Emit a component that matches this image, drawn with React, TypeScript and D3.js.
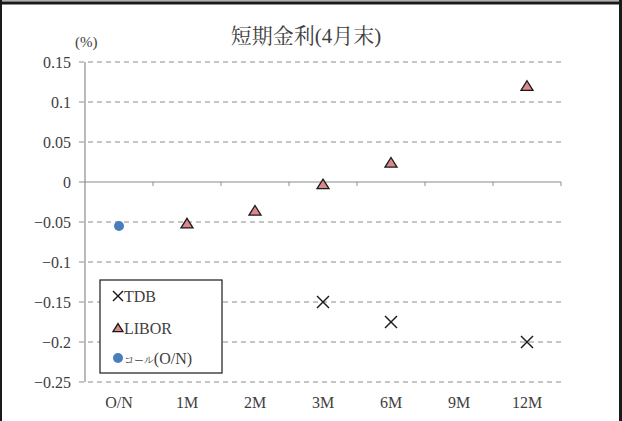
import React from "react";
import * as d3 from "d3";

const categories = ["O/N", "1M", "2M", "3M", "6M", "9M", "12M"];
const yTicks = [0.15, 0.1, 0.05, 0, -0.05, -0.1, -0.15, -0.2, -0.25];
const tdbCats = ["3M", "6M", "12M"];
const tdbValues = [-0.15, -0.175, -0.2];
const liborCats = ["1M", "2M", "3M", "6M", "12M"];
const liborValues = [-0.052, -0.036, -0.003, 0.024, 0.12];
const callCats = ["O/N"];
const callValues = [-0.055];

const W = 622;
const H = 421;
const serif = "'Liberation Serif', 'Noto Serif CJK JP', serif";
const textColor = "#404040";

function tickLabel(v: number) {
  if (v === 0) return "0";
  const s = String(Math.abs(v));
  return (v < 0 ? "\u2212" : "") + s;
}

function Tri({ x, y, s = 6 }: { x: number; y: number; s?: number }) {
  const h = s * 1.6;
  return (
    <path
      d={`M${x},${y - h * 0.55} L${x + s},${y + h * 0.45} L${x - s},${y + h * 0.45} Z`}
      fill="#d9898c"
      stroke="#1a1a1a"
      strokeWidth={1.3}
      strokeLinejoin="miter"
    />
  );
}

function Cross({ x, y, s = 6 }: { x: number; y: number; s?: number }) {
  return (
    <g stroke="#1a1a1a" strokeWidth={1.4}>
      <line x1={x - s} y1={y - s} x2={x + s} y2={y + s} />
      <line x1={x - s} y1={y + s} x2={x + s} y2={y - s} />
    </g>
  );
}

export default function App() {
  const x = d3.scaleBand<string>().domain(categories).range([85, 561]);
  const y = d3.scaleLinear().domain([-0.25, 0.15]).range([382, 62]);
  const cx = (c: string) => (x(c) as number) + x.bandwidth() / 2;

  return (
    <svg
      width={W}
      height={H}
      style={{ position: "absolute", left: 0, top: 0, background: "#fff" }}
    >
      <rect x={0} y={0} width={W} height={H} fill="#fff" />
      {/* frame */}
      <rect x={0} y={0} width={W} height={1.5} fill="#b0b0b0" />
      <rect x={0} y={1.5} width={W} height={3} fill="#1a1a1a" />
      <rect x={0} y={0} width={2} height={H} fill="#1a1a1a" />
      <rect x={619} y={0} width={3} height={H} fill="#1a1a1a" />

      {/* title */}
      <text
        x={306}
        y={43}
        textAnchor="middle"
        fontFamily={serif}
        fontSize={21}
        fill={textColor}
      >
        短期金利(4月末)
      </text>
      <text x={75} y={47} fontFamily={serif} fontSize={15} fill={textColor}>
        (%)
      </text>

      {/* gridlines */}
      {yTicks.map((t) =>
        t === 0 ? null : (
          <line
            key={t}
            x1={79}
            x2={562}
            y1={y(t)}
            y2={y(t)}
            stroke="#8c8c8c"
            strokeWidth={1}
            strokeDasharray="5,4"
          />
        )
      )}
      {/* y labels */}
      {yTicks.map((t) => (
        <text
          key={"l" + t}
          x={71}
          y={y(t) + 5.5}
          textAnchor="end"
          fontFamily={serif}
          fontSize={16}
          fill={textColor}
        >
          {tickLabel(t)}
        </text>
      ))}
      {/* axes */}
      <line x1={85} x2={85} y1={y(0.15)} y2={y(-0.25)} stroke="#8c8c8c" strokeWidth={1.2} />
      <line x1={79} x2={561} y1={y(0)} y2={y(0)} stroke="#8c8c8c" strokeWidth={1.2} />
      {categories.map((c) => (
        <line
          key={"t" + c}
          x1={(x(c) as number) + x.bandwidth()}
          x2={(x(c) as number) + x.bandwidth()}
          y1={y(0)}
          y2={y(0) + 4}
          stroke="#8c8c8c"
          strokeWidth={1}
        />
      ))}
      {/* x labels */}
      {categories.map((c) => (
        <text
          key={"x" + c}
          x={cx(c)}
          y={408}
          textAnchor="middle"
          fontFamily={serif}
          fontSize={16}
          fill={textColor}
        >
          {c}
        </text>
      ))}

      {/* data */}
      {callCats.map((c, i) => (
        <circle key={"c" + c} cx={cx(c)} cy={y(callValues[i])} r={5} fill="#4a7ebb" />
      ))}
      {liborCats.map((c, i) => (
        <Tri key={"l" + c} x={cx(c)} y={y(liborValues[i])} />
      ))}
      {tdbCats.map((c, i) => (
        <Cross key={"d" + c} x={cx(c)} y={y(tdbValues[i])} />
      ))}

      {/* legend */}
      <rect x={100} y={280} width={122} height={93} fill="#fff" stroke="#1a1a1a" strokeWidth={1.2} />
      <Cross x={118} y={296} s={5} />
      <text x={124} y={302} fontFamily={serif} fontSize={16} fill={textColor}>TDB</text>
      <Tri x={118} y={328} s={5} />
      <text x={124} y={334} fontFamily={serif} fontSize={16} fill={textColor}>LIBOR</text>
      <circle cx={118} cy={358} r={5} fill="#4a7ebb" />
      <text x={124} y={364} fontFamily={serif} fontSize={16} fill={textColor}>
        <tspan fontSize={10}>コール</tspan>(O/N)
      </text>
    </svg>
  );
}
